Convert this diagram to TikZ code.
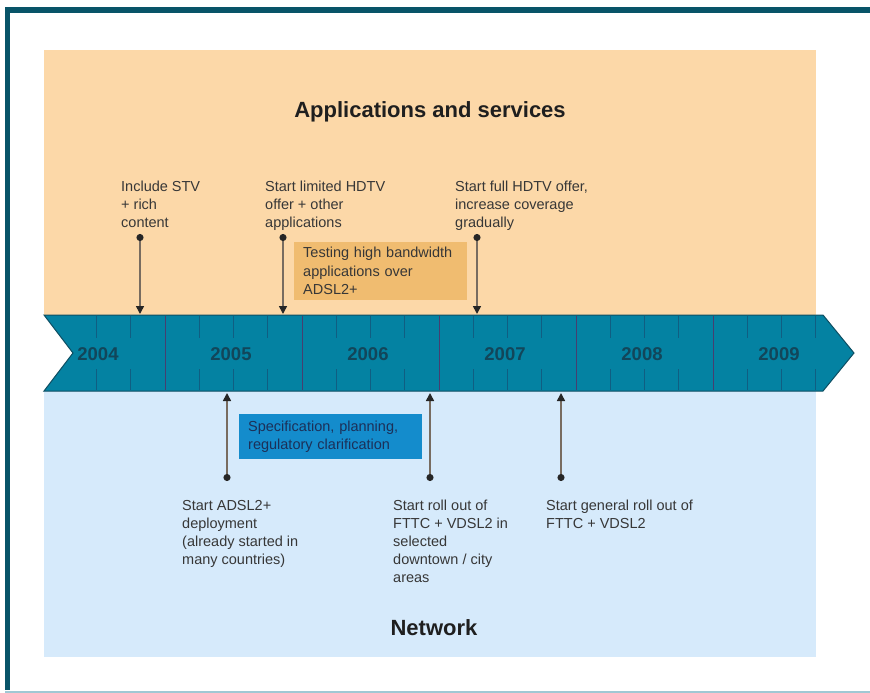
\documentclass[tikz,border=0pt]{standalone}
\usepackage{fontspec}
\setmainfont{Liberation Sans}
\usetikzlibrary{arrows.meta}

\definecolor{framecol}{RGB}{8,84,104}
\definecolor{framelow}{RGB}{160,200,212}
\definecolor{appscol}{RGB}{252,216,168}
\definecolor{netcol}{RGB}{214,234,251}
\definecolor{bandcol}{RGB}{4,130,162}
\definecolor{bandline}{RGB}{14,78,98}
\definecolor{yearline}{RGB}{70,62,112}
\definecolor{tickcol}{RGB}{16,94,130}
\definecolor{yearcol}{RGB}{18,70,90}
\definecolor{testcol}{RGB}{240,188,112}
\definecolor{speccol}{RGB}{20,140,204}
\definecolor{textcol}{RGB}{55,55,55}
\definecolor{linkcol}{RGB}{120,108,96}

\begin{document}
\begin{tikzpicture}[x=1pt, y=-1pt,
		event/.style={anchor=north west, align=left, inner sep=0pt, text=textcol, font=\fontsize{14.5}{18}\selectfont},
		title/.style={font=\fontsize{22}{24}\selectfont\bfseries, text=black!88},
		year/.style={font=\fontsize{18.5}{20}\selectfont\bfseries, text=yearcol},
		link/.style={draw=linkcol, line width=1.6pt, {Circle[length=7pt, color=black!85]}-{Triangle[length=8pt, width=8pt, color=black!85]}}]

		\useasboundingbox (0,0) rectangle (870,693);

		\draw[framelow, line width=2pt] (5,691.5) -- (870,691.5);
		\draw[framecol, line width=5.5pt] (7.5,690) |- (870,10);

		\fill[appscol] (44,50) rectangle (816,316);
		\fill[netcol] (44,390) rectangle (816,657);

		\node[title] (apps) at (430,112) {Applications and services};
		\node[title] (net) at (434,628) {Network};

		\filldraw[fill=bandcol, draw=bandline, line width=1pt] (44,315) -- (823,315) -- (854,353) -- (823,391) -- (44,391) -- (73,353) -- cycle;
		\foreach \i in {2,3,5,6,7,9,10,11,13,14,15,17,18,19,21,22,23}
			\draw[tickcol, line width=0.8pt] (28+34.25*\i,316) -- (28+34.25*\i,338) (28+34.25*\i,369) -- (28+34.25*\i,390);
		\foreach \k in {1,...,5}
			\draw[yearline, line width=1pt] (28+137*\k,316) -- (28+137*\k,390);

		\node[year] (y2004) at (98,354) {2004};
		\foreach \y [count=\i] in {2005,...,2009}
			\node[year] (y\y) at (94+137*\i,354) {\y};

		\node[event] (stv) at (121,181) {Include STV\\+ rich\\content};
		\node[event] (hdtv) at (265,181) {Start limited HDTV\\offer + other\\applications};
		\node[event] (full) at (455,181) {Start full HDTV offer,\\increase coverage\\gradually};

		\node[anchor=north west, fill=testcol, minimum width=173pt, minimum height=58pt, text width=155pt, inner xsep=9pt, align=left, text=textcol, font=\fontsize{14.5}{18.5}\selectfont] (test) at (294,242) {Testing high bandwidth\\applications over\\ADSL2+};
		\node[anchor=north west, fill=speccol, minimum width=183pt, minimum height=45pt, text width=165pt, inner xsep=9pt, align=left, text={rgb,255:red,28;green,48;blue,88}, font=\fontsize{14.5}{18.5}\selectfont] (spec) at (239,414) {Specification, planning,\\regulatory clarification};

		\node[event] (adsl) at (182,500) {Start ADSL2+\\deployment\\(already started in\\many countries)};
		\node[event] (fttc) at (393,500) {Start roll out of\\FTTC + VDSL2 in\\selected\\downtown / city\\areas};
		\node[event] (gen) at (546,500) {Start general roll out of\\FTTC + VDSL2};

		\coordinate (u1) at (140,234);
		\coordinate (u2) at (283,234);
		\coordinate (u3) at (477,234);
		\coordinate (t1) at (140,314);
		\coordinate (t2) at (283,314);
		\coordinate (t3) at (477,314);
		\coordinate (d1) at (227,481);
		\coordinate (d2) at (430,481);
		\coordinate (d3) at (561,481);
		\coordinate (s1) at (227,393);
		\coordinate (s2) at (430,393);
		\coordinate (s3) at (561,393);

		\draw[link] (u1) -- (t1);
		\draw[link] (u2) -- (t2);
		\draw[link] (u3) -- (t3);
		\draw[link] (d1) -- (s1);
		\draw[link] (d2) -- (s2);
		\draw[link] (d3) -- (s3);

	\end{tikzpicture}
\end{document}
